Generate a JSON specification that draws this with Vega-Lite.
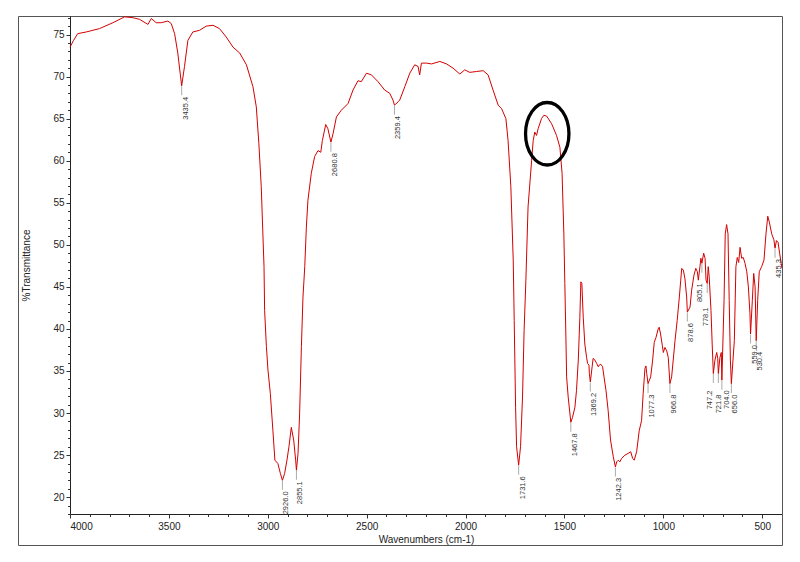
{
  "$schema": "https://vega.github.io/schema/vega-lite/v6.json",
  "autosize": {"type": "none"},
  "padding": {"left": 70, "top": 16, "right": 18, "bottom": 48},
  "width": 712,
  "height": 498,
  "background": "white",
  "config": {
    "font": "Liberation Sans",
    "view": {"stroke": null},
    "axis": {"grid": false, "domainColor": "#222", "tickColor": "#333", "labelColor": "#222", "titleColor": "#222", "labelFontSize": 10, "titleFontSize": 10, "titleFontWeight": "normal"},
    "text": {"angle": 270, "align": "right", "baseline": "middle", "fontSize": 7.5, "color": "#333"}
  },
  "datasets": {
    "spectrum": [
      {"wn":4000,"T":73.5},{"wn":3982,"T":74.3},{"wn":3961,"T":75.1},{"wn":3918,"T":75.3},{"wn":3851,"T":75.7},
      {"wn":3783,"T":76.4},{"wn":3724,"T":77.1},{"wn":3682,"T":77.0},{"wn":3648,"T":76.8},{"wn":3606,"T":76.2},
      {"wn":3589,"T":76.9},{"wn":3564,"T":76.4},{"wn":3539,"T":76.4},{"wn":3505,"T":76.6},{"wn":3488,"T":76.3},
      {"wn":3471,"T":75.1},{"wn":3455,"T":72.8},{"wn":3435.4,"T":68.9},{"wn":3421,"T":71.2},{"wn":3404,"T":74.3},
      {"wn":3379,"T":75.3},{"wn":3345,"T":75.5},{"wn":3311,"T":76.0},{"wn":3277,"T":76.1},{"wn":3244,"T":75.7},
      {"wn":3210,"T":74.7},{"wn":3176,"T":73.5},{"wn":3142,"T":72.8},{"wn":3108,"T":71.4},{"wn":3075,"T":68.8},
      {"wn":3058,"T":66.4},{"wn":3045,"T":62.0},{"wn":3033,"T":56.9},{"wn":3019,"T":47.4},{"wn":3016,"T":42.2},
      {"wn":3007,"T":37.9},{"wn":2999,"T":35.1},{"wn":2987,"T":32.3},{"wn":2974,"T":27.9},{"wn":2964,"T":24.4},
      {"wn":2949,"T":24.0},{"wn":2936,"T":22.8},{"wn":2926.0,"T":22.0},{"wn":2915,"T":22.8},{"wn":2903,"T":24.4},
      {"wn":2893,"T":26.0},{"wn":2881,"T":28.3},{"wn":2869,"T":26.8},{"wn":2859,"T":24.4},{"wn":2855.1,"T":23.2},
      {"wn":2847,"T":25.2},{"wn":2839,"T":29.9},{"wn":2830,"T":37.9},{"wn":2822,"T":43.8},{"wn":2817,"T":45.8},
      {"wn":2813,"T":47.4},{"wn":2805,"T":52.1},{"wn":2797,"T":55.3},{"wn":2780,"T":58.5},{"wn":2763,"T":60.5},
      {"wn":2746,"T":61.2},{"wn":2732,"T":61.0},{"wn":2724,"T":62.4},{"wn":2707,"T":64.3},{"wn":2696,"T":63.8},
      {"wn":2680.8,"T":62.2},{"wn":2670,"T":63.2},{"wn":2653,"T":65.2},{"wn":2628,"T":66.0},{"wn":2594,"T":66.8},
      {"wn":2569,"T":68.4},{"wn":2544,"T":69.5},{"wn":2527,"T":69.4},{"wn":2501,"T":70.4},{"wn":2476,"T":70.2},
      {"wn":2443,"T":69.4},{"wn":2409,"T":68.4},{"wn":2383,"T":68.0},{"wn":2367,"T":67.2},{"wn":2359.4,"T":66.6},
      {"wn":2341,"T":67.0},{"wn":2333,"T":67.2},{"wn":2307,"T":68.8},{"wn":2282,"T":70.4},{"wn":2257,"T":71.4},
      {"wn":2240,"T":71.2},{"wn":2232,"T":70.2},{"wn":2223,"T":71.6},{"wn":2198,"T":71.6},{"wn":2172,"T":71.5},
      {"wn":2130,"T":71.8},{"wn":2096,"T":71.5},{"wn":2063,"T":71.0},{"wn":2029,"T":70.3},{"wn":2004,"T":70.8},
      {"wn":1979,"T":70.5},{"wn":1945,"T":70.6},{"wn":1911,"T":70.7},{"wn":1886,"T":70.2},{"wn":1861,"T":68.4},
      {"wn":1835,"T":66.6},{"wn":1818,"T":66.2},{"wn":1796,"T":65.0},{"wn":1785,"T":62.4},{"wn":1771,"T":56.9},
      {"wn":1759,"T":48.2},{"wn":1754,"T":41.0},{"wn":1747,"T":30.7},{"wn":1742,"T":26.0},{"wn":1731.6,"T":23.8},
      {"wn":1722,"T":26.0},{"wn":1712,"T":31.9},{"wn":1704,"T":39.8},{"wn":1695,"T":45.8},{"wn":1684,"T":54.5},
      {"wn":1666,"T":60.0},{"wn":1658,"T":62.4},{"wn":1650,"T":63.4},{"wn":1641,"T":63.0},{"wn":1633,"T":63.8},
      {"wn":1616,"T":65.0},{"wn":1604,"T":65.4},{"wn":1590,"T":65.3},{"wn":1565,"T":64.4},{"wn":1540,"T":63.0},
      {"wn":1523,"T":61.6},{"wn":1512,"T":58.5},{"wn":1503,"T":51.3},{"wn":1498,"T":45.4},{"wn":1493,"T":39.4},
      {"wn":1489,"T":34.3},{"wn":1481,"T":31.9},{"wn":1467.8,"T":28.9},{"wn":1459,"T":29.5},{"wn":1447,"T":30.7},
      {"wn":1439,"T":32.7},{"wn":1430,"T":36.3},{"wn":1422,"T":41.4},{"wn":1417,"T":45.6},{"wn":1412,"T":45.4},
      {"wn":1405,"T":41.4},{"wn":1397,"T":38.2},{"wn":1388,"T":36.6},{"wn":1383,"T":35.9},{"wn":1376,"T":35.7},
      {"wn":1374,"T":34.7},{"wn":1369.2,"T":33.7},{"wn":1360,"T":35.5},{"wn":1355,"T":36.5},{"wn":1346,"T":36.3},
      {"wn":1337,"T":35.9},{"wn":1329,"T":35.5},{"wn":1324,"T":35.7},{"wn":1316,"T":35.8},{"wn":1307,"T":35.5},
      {"wn":1300,"T":34.3},{"wn":1290,"T":32.7},{"wn":1279,"T":30.3},{"wn":1267,"T":26.8},{"wn":1253,"T":24.8},
      {"wn":1242.3,"T":23.6},{"wn":1236,"T":24.2},{"wn":1228,"T":24.4},{"wn":1220,"T":24.2},{"wn":1211,"T":24.6},
      {"wn":1194,"T":25.0},{"wn":1178,"T":25.2},{"wn":1165,"T":25.4},{"wn":1155,"T":24.6},{"wn":1147,"T":24.4},
      {"wn":1135,"T":25.4},{"wn":1122,"T":27.9},{"wn":1110,"T":29.1},{"wn":1102,"T":32.3},{"wn":1093,"T":35.3},
      {"wn":1088,"T":35.6},{"wn":1084,"T":34.7},{"wn":1077.3,"T":33.5},{"wn":1064,"T":34.3},{"wn":1054,"T":36.3},
      {"wn":1046,"T":38.4},{"wn":1037,"T":39.0},{"wn":1026,"T":40.0},{"wn":1021,"T":40.2},{"wn":1014,"T":39.4},
      {"wn":1005,"T":38.0},{"wn":1000,"T":37.2},{"wn":992,"T":37.8},{"wn":983,"T":37.4},{"wn":975,"T":36.6},
      {"wn":966.8,"T":33.5},{"wn":958,"T":34.3},{"wn":950,"T":36.3},{"wn":941,"T":38.6},{"wn":930,"T":41.0},
      {"wn":919,"T":43.8},{"wn":912,"T":45.8},{"wn":907,"T":47.2},{"wn":899,"T":47.0},{"wn":891,"T":46.0},
      {"wn":882,"T":43.8},{"wn":878.6,"T":42.0},{"wn":865,"T":42.6},{"wn":857,"T":44.6},{"wn":845,"T":46.4},
      {"wn":836,"T":47.2},{"wn":828,"T":46.8},{"wn":823,"T":45.8},{"wn":815,"T":47.4},{"wn":810,"T":48.4},
      {"wn":805.1,"T":47.8},{"wn":796,"T":49.0},{"wn":789,"T":48.4},{"wn":784,"T":45.8},{"wn":778.1,"T":45.4},
      {"wn":773,"T":47.4},{"wn":768,"T":46.2},{"wn":759,"T":42.2},{"wn":753,"T":38.2},{"wn":747.2,"T":34.7},
      {"wn":739,"T":36.3},{"wn":730,"T":37.2},{"wn":725,"T":36.5},{"wn":721.8,"T":34.7},{"wn":714,"T":36.6},
      {"wn":707,"T":37.2},{"wn":704.0,"T":33.9},{"wn":693,"T":43.4},{"wn":687,"T":51.3},{"wn":680,"T":52.4},
      {"wn":673,"T":51.3},{"wn":667,"T":43.4},{"wn":661,"T":36.3},{"wn":656.0,"T":33.5},{"wn":641,"T":38.6},
      {"wn":633,"T":47.4},{"wn":626,"T":48.5},{"wn":619,"T":47.9},{"wn":612,"T":49.7},{"wn":604,"T":48.4},
      {"wn":596,"T":48.5},{"wn":587,"T":47.8},{"wn":578,"T":46.8},{"wn":570,"T":45.0},{"wn":562,"T":41.8},
      {"wn":559.0,"T":39.4},{"wn":550,"T":43.4},{"wn":543,"T":46.6},{"wn":536,"T":45.0},{"wn":530.4,"T":38.6},
      {"wn":523,"T":43.4},{"wn":515,"T":46.8},{"wn":503,"T":47.4},{"wn":491,"T":48.2},{"wn":481,"T":51.3},
      {"wn":472,"T":53.4},{"wn":464,"T":52.7},{"wn":452,"T":51.3},{"wn":441,"T":50.6},{"wn":435.3,"T":49.6},
      {"wn":428,"T":50.5},{"wn":420,"T":50.3},{"wn":412,"T":49.0},{"wn":404,"T":47.8},{"wn":400,"T":47.2}
    ],
    "peaks": [
      {"wn":3435.4,"T":68.9,"label":"3435.4"},{"wn":2926.0,"T":22.0,"label":"2926.0"},{"wn":2855.1,"T":23.2,"label":"2855.1"},
      {"wn":2680.8,"T":62.2,"label":"2680.8"},{"wn":2359.4,"T":66.6,"label":"2359.4"},{"wn":1731.6,"T":23.8,"label":"1731.6"},
      {"wn":1467.8,"T":28.9,"label":"1467.8"},{"wn":1369.2,"T":33.7,"label":"1369.2"},{"wn":1242.3,"T":23.6,"label":"1242.3"},
      {"wn":1077.3,"T":33.5,"label":"1077.3"},{"wn":966.8,"T":33.5,"label":"966.8"},{"wn":878.6,"T":42.0,"label":"878.6"},
      {"wn":805.1,"T":47.8,"label":"805.1"},{"wn":778.1,"T":45.4,"label":"778.1"},{"wn":747.2,"T":34.7,"label":"747.2"},
      {"wn":721.8,"T":34.7,"label":"721.8"},{"wn":704.0,"T":33.9,"label":"704.0"},{"wn":656.0,"T":33.5,"label":"656.0"},
      {"wn":559.0,"T":39.4,"label":"559.0"},{"wn":530.4,"T":38.6,"label":"530.4"},{"wn":435.3,"T":49.6,"label":"435.3"}
    ],
    "highlight": [{"wn":1587,"T":63.2}]
  },
  "resolve": {"scale": {"x": "independent", "y": "independent"}, "axis": {"x": "independent", "y": "independent"}},
  "layer": [
    {
      "data": {"name": "peaks"},
      "mark": {"type": "point", "opacity": 0},
      "encoding": {
        "x": {"field": "wn", "type": "quantitative", "scale": {"domain": [400, 4000], "reverse": true, "nice": false, "zero": false, "range": [-52, 712]},
              "axis": {"orient": "bottom", "offset": 31, "ticks": false, "labels": false, "title": null, "domainColor": "#555"}},
        "y": {"field": "T", "type": "quantitative", "scale": {"domain": [18, 77.2], "nice": false, "zero": false, "range": [529, 0]},
              "axis": {"orient": "left", "offset": 52, "ticks": false, "labels": false, "title": null, "domainColor": "#555"}}
      }
    },
    {
      "data": {"name": "peaks"},
      "mark": {"type": "point", "opacity": 0},
      "encoding": {
        "x": {"field": "wn", "type": "quantitative", "scale": {"domain": [400, 4000], "reverse": true, "nice": false, "zero": false, "range": [-52, 712]},
              "axis": {"orient": "top", "offset": 0, "ticks": false, "labels": false, "title": null, "domainColor": "#555"}},
        "y": {"field": "T", "type": "quantitative", "scale": {"domain": [18, 77.2], "nice": false, "zero": false, "range": [529, 0]},
              "axis": {"orient": "right", "offset": 0, "ticks": false, "labels": false, "title": null, "domainColor": "#555"}}
      }
    },
    {
      "data": {"name": "spectrum"},
      "mark": {"type": "line", "color": "#d40000", "strokeWidth": 1},
      "encoding": {
        "x": {"field": "wn", "type": "quantitative", "scale": {"domain": [400, 4000], "reverse": true, "nice": false, "zero": false},
              "axis": {"orient": "bottom", "values": [4000, 3500, 3000, 2500, 2000, 1500, 1000, 500], "format": "d", "tickSize": 4, "labelPadding": 3, "title": "Wavenumbers (cm-1)", "titlePadding": 3.5}},
        "y": {"field": "T", "type": "quantitative", "scale": {"domain": [18, 77.2], "nice": false, "zero": false},
              "axis": {"orient": "left", "values": [20, 25, 30, 35, 40, 45, 50, 55, 60, 65, 70, 75], "format": "d", "tickSize": 4, "labelPadding": 2, "title": "%Transmittance", "titlePadding": 21.5}}
      }
    },
    {
      "data": {"name": "peaks"},
      "mark": {"type": "tick", "orient": "vertical", "size": 9, "thickness": 1, "yOffset": 5, "color": "#888"},
      "encoding": {
        "x": {"field": "wn", "type": "quantitative", "scale": {"domain": [400, 4000], "reverse": true, "nice": false, "zero": false},
              "axis": {"orient": "bottom", "values": [3900, 3800, 3700, 3600, 3400, 3300, 3200, 3100, 2900, 2800, 2700, 2600, 2400, 2300, 2200, 2100, 1900, 1800, 1700, 1600, 1400, 1300, 1200, 1100, 900, 800, 700, 600, 400], "tickSize": 2.5, "labels": false, "domain": false, "title": null}},
        "y": {"field": "T", "type": "quantitative", "scale": {"domain": [18, 77.2], "nice": false, "zero": false},
              "axis": {"orient": "left", "values": [18, 19, 21, 22, 23, 24, 26, 27, 28, 29, 31, 32, 33, 34, 36, 37, 38, 39, 41, 42, 43, 44, 46, 47, 48, 49, 51, 52, 53, 54, 56, 57, 58, 59, 61, 62, 63, 64, 66, 67, 68, 69, 71, 72, 73, 74, 76, 77], "tickSize": 2.5, "labels": false, "domain": false, "title": null}}
      }
    },
    {
      "data": {"name": "peaks"},
      "transform": [{"filter": "indexof(['805.1','778.1','747.2','721.8','704.0'], datum.label) < 0"}],
      "mark": {"type": "text", "dx": -11, "dy": 4},
      "encoding": {
        "x": {"field": "wn", "type": "quantitative", "scale": {"domain": [400, 4000], "reverse": true, "nice": false, "zero": false}, "axis": null},
        "y": {"field": "T", "type": "quantitative", "scale": {"domain": [18, 77.2], "nice": false, "zero": false}, "axis": null},
        "text": {"field": "label", "type": "nominal"}
      }
    },
    {
      "data": {"name": "peaks"},
      "transform": [{"filter": "datum.label == '805.1'"}],
      "mark": {"type": "text", "dx": -20, "dy": -1.8},
      "encoding": {
        "x": {"field": "wn", "type": "quantitative", "scale": {"domain": [400, 4000], "reverse": true, "nice": false, "zero": false}, "axis": null},
        "y": {"field": "T", "type": "quantitative", "scale": {"domain": [18, 77.2], "nice": false, "zero": false}, "axis": null},
        "text": {"field": "label", "type": "nominal"}
      }
    },
    {
      "data": {"name": "peaks"},
      "transform": [{"filter": "datum.label == '778.1'"}],
      "mark": {"type": "text", "dx": -24, "dy": -1.2},
      "encoding": {
        "x": {"field": "wn", "type": "quantitative", "scale": {"domain": [400, 4000], "reverse": true, "nice": false, "zero": false}, "axis": null},
        "y": {"field": "T", "type": "quantitative", "scale": {"domain": [18, 77.2], "nice": false, "zero": false}, "axis": null},
        "text": {"field": "label", "type": "nominal"}
      }
    },
    {
      "data": {"name": "peaks"},
      "transform": [{"filter": "datum.label == '747.2'"}],
      "mark": {"type": "text", "dx": -17, "dy": -3.6},
      "encoding": {
        "x": {"field": "wn", "type": "quantitative", "scale": {"domain": [400, 4000], "reverse": true, "nice": false, "zero": false}, "axis": null},
        "y": {"field": "T", "type": "quantitative", "scale": {"domain": [18, 77.2], "nice": false, "zero": false}, "axis": null},
        "text": {"field": "label", "type": "nominal"}
      }
    },
    {
      "data": {"name": "peaks"},
      "transform": [{"filter": "datum.label == '721.8'"}],
      "mark": {"type": "text", "dx": -21, "dy": 0.4},
      "encoding": {
        "x": {"field": "wn", "type": "quantitative", "scale": {"domain": [400, 4000], "reverse": true, "nice": false, "zero": false}, "axis": null},
        "y": {"field": "T", "type": "quantitative", "scale": {"domain": [18, 77.2], "nice": false, "zero": false}, "axis": null},
        "text": {"field": "label", "type": "nominal"}
      }
    },
    {
      "data": {"name": "peaks"},
      "transform": [{"filter": "datum.label == '704.0'"}],
      "mark": {"type": "text", "dx": -10, "dy": 5.4},
      "encoding": {
        "x": {"field": "wn", "type": "quantitative", "scale": {"domain": [400, 4000], "reverse": true, "nice": false, "zero": false}, "axis": null},
        "y": {"field": "T", "type": "quantitative", "scale": {"domain": [18, 77.2], "nice": false, "zero": false}, "axis": null},
        "text": {"field": "label", "type": "nominal"}
      }
    },
    {
      "data": {"name": "highlight"},
      "mark": {"type": "point", "shape": "M1,0C1,0.795,0.552,1.44,0,1.44C-0.552,1.44,-1,0.795,-1,0C-1,-0.795,-0.552,-1.44,0,-1.44C0.552,-1.44,1,-0.795,1,0Z", "size": 1884, "filled": false, "stroke": "black", "strokeWidth": 3.3, "opacity": 1},
      "encoding": {
        "x": {"field": "wn", "type": "quantitative", "scale": {"domain": [400, 4000], "reverse": true, "nice": false, "zero": false}, "axis": null},
        "y": {"field": "T", "type": "quantitative", "scale": {"domain": [18, 77.2], "nice": false, "zero": false}, "axis": null}
      }
    }
  ]
}
